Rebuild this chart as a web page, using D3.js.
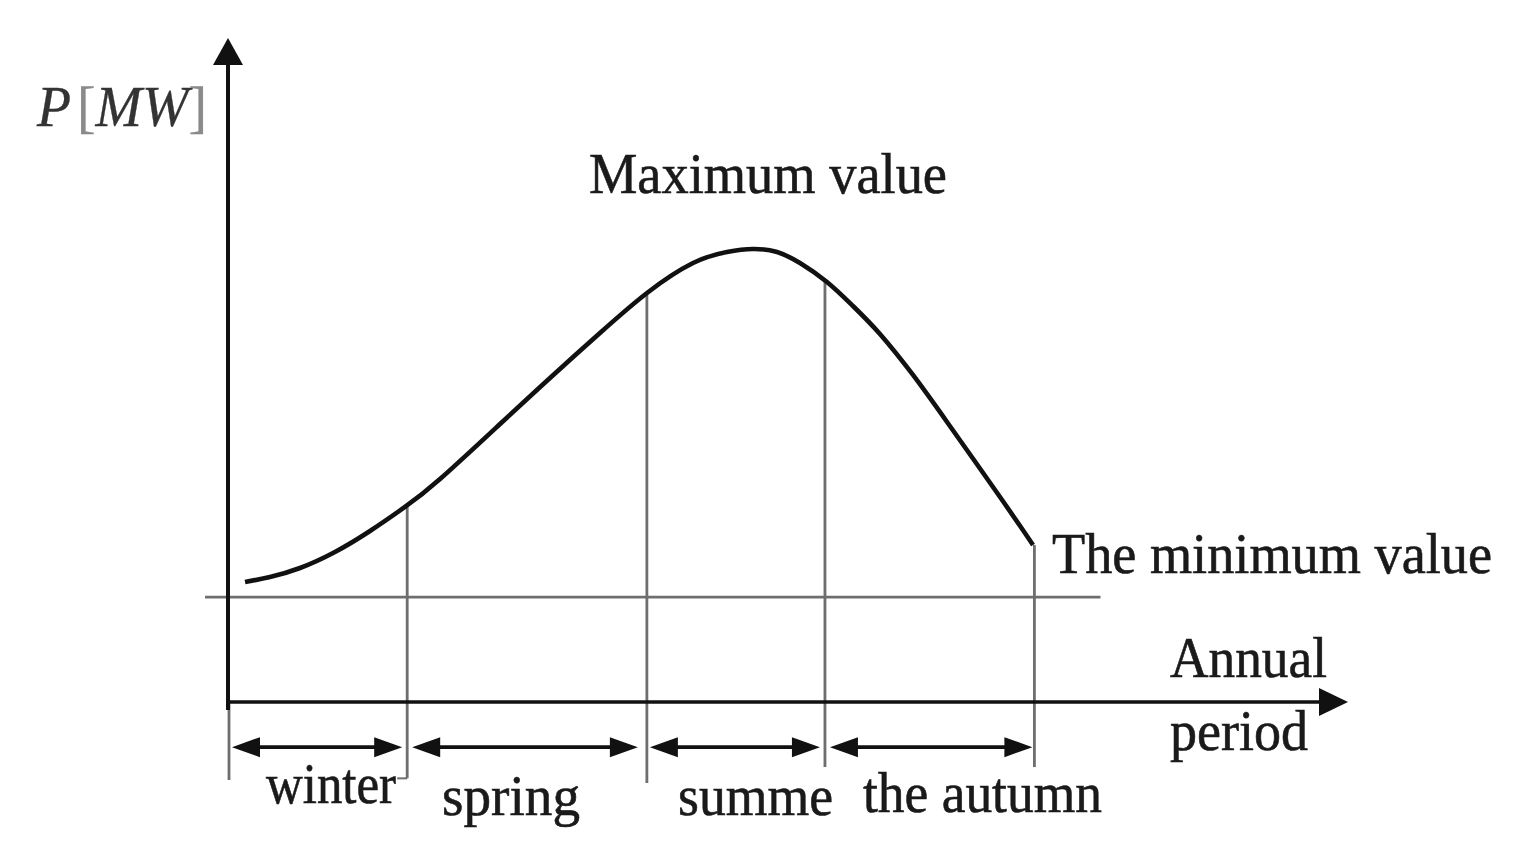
<!DOCTYPE html>
<html>
<head>
<meta charset="utf-8">
<script src="https://cdn.jsdelivr.net/npm/d3@7"></script>
<style>
  html, body { margin: 0; padding: 0; background: #fff; }
  svg { display: block; }
  text { font-family: "Liberation Serif", "Times New Roman", serif; fill: #1a1a1a; stroke: #1a1a1a; stroke-width: 0.6px; }
</style>
</head>
<body>
<svg id="chart" width="1535" height="859"></svg>
<script>
// ---------------- DATA ----------------
// Annual load curve P (arbitrary units, 0..100) across the year (0..100 of the period)
const curveX = [1.52, 3.75, 6.43, 9.55, 12.68, 15.8, 18.93, 24.29, 28.75, 33.21, 37.41, 41.52, 44.55, 46.88, 49.02, 51.07, 53.48, 55.8, 58.21, 61.16, 64.2, 68.93, 71.88];
const curveY = [18.07, 18.83, 20.18, 22.59, 25.75, 29.37, 33.58, 41.87, 48.8, 55.57, 61.6, 66.11, 67.77, 68.22, 67.77, 66.11, 63.25, 59.64, 55.42, 49.25, 42.17, 30.87, 23.64];
const seasonNames = ["winter", "spring", "summe", "the autumn"];
const seasonBounds = [0, 16.0, 37.4, 53.3, 72.0];
const minLevel = 15.8;            // horizontal reference line
const yAxisLabel = ["P", "[", "MW", "]"];
const maxLabel = "Maximum value";
const minLabel = "The minimum value";
const xAxisLabel = ["Annual", "period"];

// ---------------- LAYOUT ----------------
const svg = d3.select("#chart");
const x = d3.scaleLinear().domain([0, 100]).range([228, 1348]);
const y = d3.scaleLinear().domain([0, 100]).range([702, 38]);

const FS = 56;
const ink = "#111";
const grey = "#6e6e6e";

function addText(str, x0, x1, base, opts = {}) {
  const t = svg.append("text")
    .attr("x", x0).attr("y", base)
    .attr("font-size", opts.size || FS)
    .attr("textLength", x1 - x0)
    .attr("lengthAdjust", "spacingAndGlyphs")
    .text(str);
  if (opts.italic) t.attr("font-style", "italic");
  if (opts.fill) t.style("fill", opts.fill);
  return t;
}

// horizontal reference (minimum) line
svg.append("line")
  .attr("x1", x(-2.05)).attr("x2", x(77.9))
  .attr("y1", y(minLevel)).attr("y2", y(minLevel))
  .attr("stroke", grey).attr("stroke-width", 2.6);

// load curve path generator
const line = d3.line()
  .x((d, i) => x(curveX[i]))
  .y((d, i) => y(curveY[i]))
  .curve(d3.curveNatural);

// season boundary vertical lines (from the curve down below the axis)
const lineBottoms = [-11.5, -12.2, -9.8, -9.8];
const tmpPath = svg.append("path").datum(curveX).attr("d", line).attr("fill", "none").attr("stroke", "none");
const pathNode = tmpPath.node();
const totalLen = pathNode.getTotalLength();
function curveYAtPx(px) {
  let lo = 0, hi = totalLen;
  for (let k = 0; k < 40; k++) {
    const mid = (lo + hi) / 2;
    if (pathNode.getPointAtLength(mid).x < px) lo = mid; else hi = mid;
  }
  return pathNode.getPointAtLength(lo).y;
}
tmpPath.remove();

seasonBounds.slice(1).forEach((b, i) => {
  const px = x(b);
  const top = px >= x(curveX[curveX.length - 1]) ? y(curveY[curveY.length - 1]) : curveYAtPx(px);
  svg.append("line")
    .attr("x1", px).attr("x2", px)
    .attr("y1", top)
    .attr("y2", y(lineBottoms[i]))
    .attr("stroke", grey).attr("stroke-width", 2.8);
});
// small corner tick of the "winter" box
svg.append("line")
  .attr("x1", x(seasonBounds[1]) - 10).attr("x2", x(seasonBounds[1]))
  .attr("y1", y(lineBottoms[0])).attr("y2", y(lineBottoms[0]))
  .attr("stroke", grey).attr("stroke-width", 2);

// lower extension of the y-axis (grey)
svg.append("line")
  .attr("x1", x(0) + 1).attr("x2", x(0) + 1)
  .attr("y1", y(0)).attr("y2", y(-11.75))
  .attr("stroke", grey).attr("stroke-width", 2.8);

// load curve
svg.append("path")
  .datum(curveX)
  .attr("d", line)
  .attr("fill", "none")
  .attr("stroke", ink)
  .attr("stroke-width", 4.6)
  .attr("stroke-linecap", "butt");

// y axis with arrow
svg.append("line")
  .attr("x1", x(0)).attr("x2", x(0))
  .attr("y1", y(-1.2)).attr("y2", y(100) + 24)
  .attr("stroke", ink).attr("stroke-width", 4);
svg.append("path")
  .attr("d", `M${x(0)},${y(100)} L${x(0) - 15},${y(100) + 27} L${x(0) + 15},${y(100) + 27} Z`)
  .attr("fill", ink);

// x axis with arrow
svg.append("line")
  .attr("x1", x(0)).attr("x2", x(100) - 26)
  .attr("y1", y(0)).attr("y2", y(0))
  .attr("stroke", ink).attr("stroke-width", 3.6);
svg.append("path")
  .attr("d", `M${x(100)},${y(0)} L${x(100) - 29},${y(0) - 14} L${x(100) - 29},${y(0) + 14} Z`)
  .attr("fill", ink);

// season double-headed arrows
const arrowY = y(-6.8);
const insets = [[4, 5], [5, 9], [3, 5], [5, 2]];
seasonNames.forEach((s, i) => {
  const a = x(seasonBounds[i]) + insets[i][0];
  const b = x(seasonBounds[i + 1]) - insets[i][1];
  const hl = 28, hw = 10;
  svg.append("line")
    .attr("x1", a + 10).attr("x2", b - 10)
    .attr("y1", arrowY).attr("y2", arrowY)
    .attr("stroke", ink).attr("stroke-width", 3.6);
  svg.append("path")
    .attr("d", `M${a},${arrowY} L${a + hl},${arrowY - hw} L${a + hl},${arrowY + hw} Z`)
    .attr("fill", ink);
  svg.append("path")
    .attr("d", `M${b},${arrowY} L${b - hl},${arrowY - hw} L${b - hl},${arrowY + hw} Z`)
    .attr("fill", ink);
});

// ---------------- TEXT ----------------
// y-axis label
const yl = svg.append("text")
  .attr("x", 37).attr("y", 126)
  .attr("font-size", FS)
  .attr("textLength", 170)
  .attr("lengthAdjust", "spacingAndGlyphs")
  .style("stroke-width", "0.3px");
yl.append("tspan").attr("font-style", "italic").style("fill", "#333").style("stroke", "#333").text(yAxisLabel[0]);
yl.append("tspan").style("fill", "#8a8a8a").style("stroke", "#8a8a8a").attr("dx", 6).text(yAxisLabel[1]);
yl.append("tspan").attr("font-style", "italic").style("fill", "#333").style("stroke", "#333").text(yAxisLabel[2]);
yl.append("tspan").style("fill", "#8a8a8a").style("stroke", "#8a8a8a").text(yAxisLabel[3]);

addText(maxLabel, 589, 947, 193);
addText(minLabel, 1052, 1492, 573);
addText(xAxisLabel[0], 1170, 1327, 677);
addText(xAxisLabel[1], 1170, 1308, 750);

const seasonText = [[266, 396, 803], [442, 580, 815], [678, 833, 815], [863, 1102, 812]];
seasonNames.forEach((s, i) => addText(s, seasonText[i][0], seasonText[i][1], seasonText[i][2]));
</script>
</body>
</html>
